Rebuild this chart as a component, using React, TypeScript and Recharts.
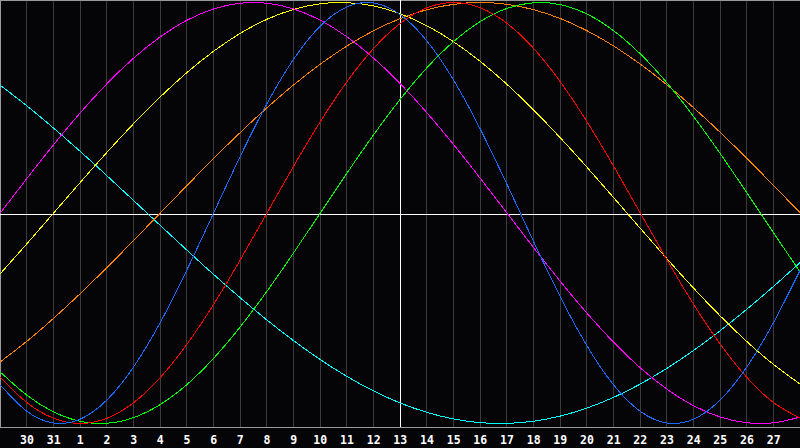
import React from "react";
import { LineChart, Line, XAxis, YAxis, CartesianGrid, ReferenceLine } from "recharts";

// day index: 0 -> "30", 1 -> "31", 2 -> "1" ... 28 -> "27"
const dayIndex = [-1, 0, 1, 2, 3, 4, 5, 6, 7, 8, 9, 10, 11, 12, 13, 14, 15, 16, 17, 18, 19, 20, 21, 22, 23, 24, 25, 26, 27, 28, 29];
const tickIndex = [0, 1, 2, 3, 4, 5, 6, 7, 8, 9, 10, 11, 12, 13, 14, 15, 16, 17, 18, 19, 20, 21, 22, 23, 24, 25, 26, 27, 28];
const dayLabels = ["30", "31", "1", "2", "3", "4", "5", "6", "7", "8", "9", "10", "11", "12", "13", "14", "15", "16", "17", "18", "19", "20", "21", "22", "23", "24", "25", "26", "27"];

const physical = [-0.817, -0.9423, -0.9977, -0.9791, -0.8879, -0.7308, -0.5196, -0.2698, 0, 0.2698, 0.5196, 0.7308, 0.8879, 0.9791, 0.9977, 0.9423, 0.817, 0.6311, 0.3984, 0.1362, -0.1362, -0.3984, -0.6311, -0.817, -0.9423, -0.9977, -0.9791, -0.8879, -0.7308, -0.5196, -0.2698];
const emotional = [-0.7818, -0.901, -0.9749, -1, -0.9749, -0.901, -0.7818, -0.6235, -0.4339, -0.2225, 0, 0.2225, 0.4339, 0.6235, 0.7818, 0.901, 0.9749, 1, 0.9749, 0.901, 0.7818, 0.6235, 0.4339, 0.2225, 0, -0.2225, -0.4339, -0.6235, -0.7818, -0.901, -0.9749];
const intellectual = [-0.7557, -0.866, -0.945, -0.9898, -0.9989, -0.9718, -0.9096, -0.8146, -0.6901, -0.5406, -0.3717, -0.1893, 0, 0.1893, 0.3717, 0.5406, 0.6901, 0.8146, 0.9096, 0.9718, 0.9989, 0.9898, 0.945, 0.866, 0.7557, 0.6182, 0.4582, 0.2817, 0.0951, -0.0951, -0.2817];
const intuitive = [0, 0.1646, 0.3247, 0.4759, 0.6142, 0.7357, 0.8372, 0.9158, 0.9694, 0.9966, 0.9966, 0.9694, 0.9158, 0.8372, 0.7357, 0.6142, 0.4759, 0.3247, 0.1646, 0, -0.1646, -0.3247, -0.4759, -0.6142, -0.7357, -0.8372, -0.9158, -0.9694, -0.9966, -0.9966, -0.9694];
const aesthetic = [-0.2881, -0.1456, 0, 0.1456, 0.2881, 0.4245, 0.5518, 0.6673, 0.7686, 0.8536, 0.9203, 0.9675, 0.994, 0.9993, 0.9834, 0.9464, 0.8893, 0.8133, 0.7199, 0.6112, 0.4894, 0.3572, 0.2174, 0.073, -0.073, -0.2174, -0.3572, -0.4894, -0.6112, -0.7199, -0.8133];
const awareness = [-0.7071, -0.6088, -0.5, -0.3827, -0.2588, -0.1305, 0, 0.1305, 0.2588, 0.3827, 0.5, 0.6088, 0.7071, 0.7934, 0.866, 0.9239, 0.9659, 0.9914, 1, 0.9914, 0.9659, 0.9239, 0.866, 0.7934, 0.7071, 0.6088, 0.5, 0.3827, 0.2588, 0.1305, 0];
const spiritual = [0.6068, 0.5085, 0.4031, 0.2921, 0.1769, 0.0592, -0.0592, -0.1769, -0.2921, -0.4031, -0.5085, -0.6068, -0.6966, -0.7765, -0.8456, -0.9028, -0.9473, -0.9786, -0.996, -0.9996, -0.989, -0.9646, -0.9267, -0.8757, -0.8125, -0.7378, -0.6528, -0.5586, -0.4564, -0.3482, -0.2349];

const todayIndex = 14;

const data = dayIndex.map((t, i) => ({
  t,
  physical: physical[i],
  emotional: emotional[i],
  intellectual: intellectual[i],
  intuitive: intuitive[i],
  aesthetic: aesthetic[i],
  awareness: awareness[i],
  spiritual: spiritual[i],
}));

const series = [
  { key: "spiritual", color: "#00ffff" },
  { key: "awareness", color: "#ff8000" },
  { key: "aesthetic", color: "#ffff00" },
  { key: "intuitive", color: "#ff00ff" },
  { key: "intellectual", color: "#00ff00" },
  { key: "emotional", color: "#ff0000" },
  { key: "physical", color: "#1a6aff" },
];

export default function App() {
  return (
    <div style={{ position: "fixed", left: 0, top: 0, width: 800, height: 448, background: "#050508" }}>
      <LineChart width={800} height={448} data={data} margin={{ top: 0, right: 0, bottom: 0, left: 0 }}>
        <CartesianGrid horizontal={false} stroke="#3c3c3c" shapeRendering="crispEdges" />
        <XAxis
          dataKey="t"
          type="number"
          domain={[-1.01125, 28.98875]}
          allowDataOverflow
          ticks={tickIndex}
          interval={0}
          tickFormatter={(v: number) => dayLabels[tickIndex.indexOf(v)]}
          tickLine={false}
          axisLine={{ stroke: "#9a9a9a", shapeRendering: "crispEdges" }}
          height={20.5}
          tick={{ fill: "#ffffff", fontSize: 11.5, fontWeight: "bold", fontFamily: "DejaVu Sans Mono" }}
        />
        <YAxis hide type="number" domain={[-1.019, 1.011876]} allowDataOverflow />
        <ReferenceLine x={-1} stroke="#9a9a9a" shapeRendering="crispEdges" />
        <ReferenceLine y={1.0095} stroke="#9a9a9a" shapeRendering="crispEdges" />
        <ReferenceLine y={-0.0071} stroke="#ffffff" shapeRendering="crispEdges" />
        <ReferenceLine x={todayIndex} stroke="#ffffff" shapeRendering="crispEdges" />
        {series.map((s) => (
          <Line
            key={s.key}
            dataKey={s.key}
            type="natural"
            stroke={s.color}
            strokeWidth={1}
            shapeRendering="crispEdges"
            dot={false}
            activeDot={false}
            isAnimationActive={false}
          />
        ))}
      </LineChart>
    </div>
  );
}
